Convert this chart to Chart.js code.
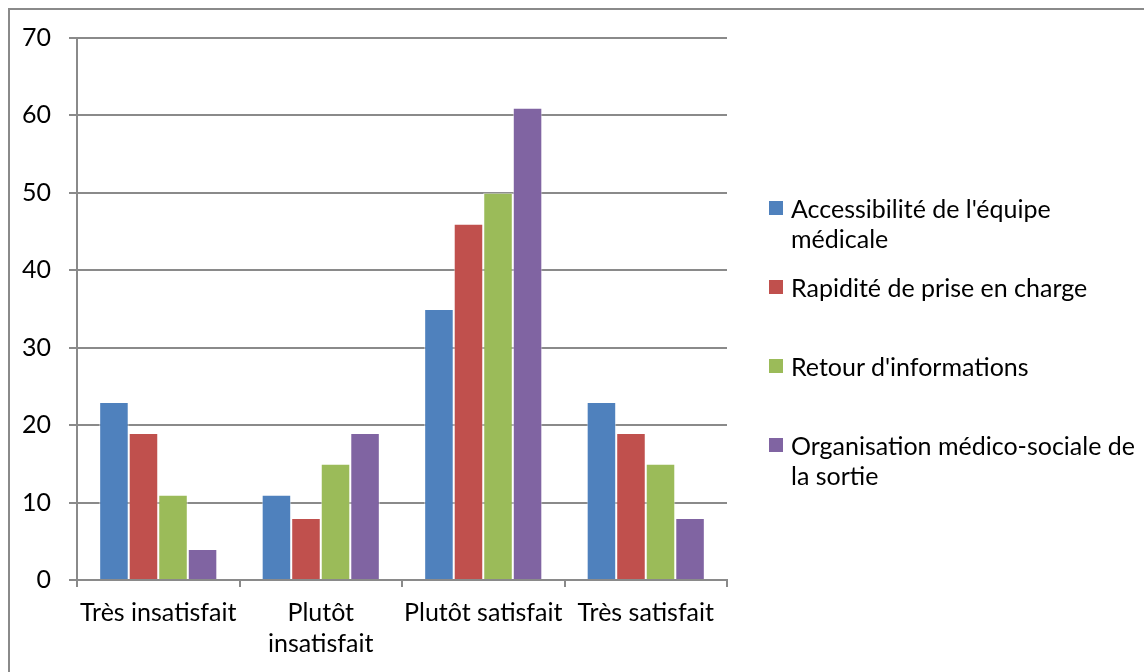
<!DOCTYPE html>
<html>
<head>
<meta charset="utf-8">
<script src="https://cdn.jsdelivr.net/npm/chart.js@4/dist/chart.umd.min.js"></script>
<style>
  body { margin:0; background:#fff; font-family:Lato, sans-serif; }
  #wrap { position:relative; width:1144px; height:672px; overflow:hidden; }
  #frame { position:absolute; left:8px; top:8px; width:1150px; height:680px; border:2px solid #8a8a8a; box-sizing:border-box; }
  #legend { position:absolute; left:0; top:0; }
  .item { position:absolute; left:769px; width:348px; font-size:25px; line-height:30px; color:#000; padding-left:22px; }
  .box { position:absolute; left:0; top:8px; width:14px; height:14px; }
</style>
</head>
<body>
<div id="wrap">
  <canvas id="c" width="1144" height="672"></canvas>
  <div id="frame"></div>
  <div id="legend"></div>
</div>
<script>
// ----- data -----
const categories = ["Très insatisfait", ["Plutôt", "insatisfait"], "Plutôt satisfait", "Très satisfait"];
const seriesNames = ["Accessibilité de l'équipe médicale", "Rapidité de prise en charge", "Retour d'informations", "Organisation médico-sociale de la sortie"];
const accessibilite = [23, 11, 35, 23];
const rapidite = [19, 8, 46, 19];
const retour = [11, 15, 50, 15];
const organisation = [4, 19, 61, 8];
const colors = ["#4F81BD", "#C0504D", "#9BBB59", "#8064A2"];

const values = [accessibilite, rapidite, retour, organisation];
const gridColor = "#8a8a8a";
const font = { family: "Lato", size: 25, lineHeight: 1.24 };

new Chart(document.getElementById("c"), {
  type: "bar",
  data: {
    labels: categories,
    datasets: values.map((v, i) => ({
      label: seriesNames[i], data: v, backgroundColor: colors[i],
      borderColor: "rgba(255,255,255,0.55)", borderWidth: 1,
      categoryPercentage: 0.727, barPercentage: 1
    }))
  },
  options: {
    responsive: false, animation: false,
    layout: { padding: { left: 0, top: 38, right: 417, bottom: 0 } },
    plugins: { legend: { display: false }, tooltip: { enabled: false } },
    scales: {
      x: {
        grid: { offset: true, drawOnChartArea: false, drawTicks: true, tickLength: 7, color: gridColor, lineWidth: 2 },
        border: { color: gridColor, width: 2 },
        ticks: { color: "#000", font: font, maxRotation: 0, autoSkip: false, padding: 10 },
        afterFit: s => { s.height = 92; }
      },
      y: {
        min: 0, max: 70,
        grid: { color: gridColor, lineWidth: 2, tickLength: 8 },
        border: { color: gridColor, width: 2 },
        ticks: { stepSize: 10, color: "#000", font: font, padding: 18 },
        afterFit: s => { s.width = 77; }
      }
    }
  }
});

// ----- legend -----
const legend = document.getElementById("legend");
seriesNames.forEach((name, i) => {
  const d = document.createElement("div");
  d.className = "item";
  d.style.top = (193 + i * 79) + "px";
  d.innerHTML = `<span class="box" style="background:${colors[i]}"></span>${name}`;
  legend.appendChild(d);
});
</script>
</body>
</html>
